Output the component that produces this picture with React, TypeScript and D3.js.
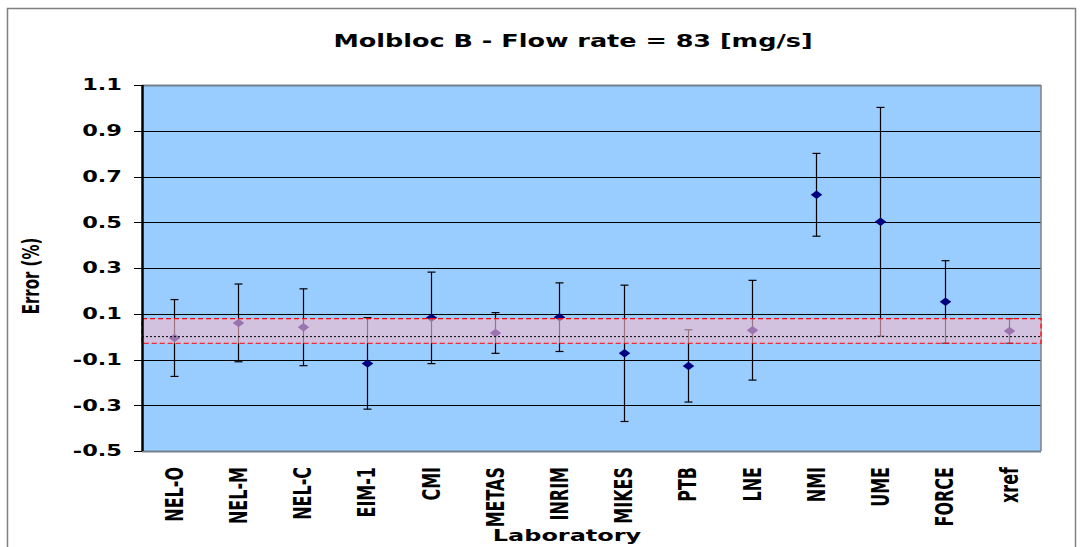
import React from "react";
import * as d3 from "d3";

const labs = ["NEL-O","NEL-M","NEL-C","EIM-1","CMI","METAS","INRIM","MIKES","PTB","LNE","NMI","UME","FORCE","xref"];
const errors = [-0.006, 0.06, 0.041, -0.117, 0.082, 0.016, 0.085, -0.073, -0.128, 0.028, 0.62, 0.502, 0.152, 0.025];
const uncert = [0.168, 0.17, 0.168, 0.2, 0.2, 0.089, 0.15, 0.298, 0.158, 0.218, 0.181, 0.5, 0.18, 0.053];
const yTicks = [1.1, 0.9, 0.7, 0.5, 0.3, 0.1, -0.1, -0.3, -0.5];
const refValue = 0.025;
const refU = 0.054;

const W = 1080, H = 547;
const L = 142, R = 1041, T = 85, B = 451;
const FONT = "Verdana, 'DejaVu Sans', sans-serif";
const SX = 1.5;

export default function App() {
  const x = d3.scaleBand<string>().domain(labs).range([L, R]);
  const y = d3.scaleLinear().domain([-0.5, 1.1]).range([B, T]);
  const cx = (l: string) => (x(l) as number) + x.bandwidth() / 2;
  const diamond = d3.symbol().type(d3.symbolDiamond).size(40)();
  return (
    <svg width={W} height={H} style={{ position: "absolute", left: 0, top: 0 }}>
      <rect x={0} y={0} width={W} height={H} fill="#fff" />
      <rect x={7.5} y={8.5} width={1068} height={560} fill="#fff" stroke="#808080" strokeWidth={1.5} />
      <text transform={`translate(573,47) scale(${SX},1)`} textAnchor="middle" fontFamily={FONT} fontWeight="bold" fontSize={17}>
        Molbloc B - Flow rate = 83 [mg/s]
      </text>
      <rect x={L} y={T} width={R - L} height={B - T} fill="#99CCFF" />
      {yTicks.map((t) => (
        <line key={"g" + t} x1={L} x2={R} y1={Math.round(y(t)) + 0.5} y2={Math.round(y(t)) + 0.5}
          stroke={t === 1.1 || t === -0.5 ? "#708090" : "#000"} strokeWidth={t === 1.1 || t === -0.5 ? 2 : 1.2} />
      ))}
      <line x1={R} x2={R} y1={T} y2={B} stroke="#808080" strokeWidth={1.5} />
      {yTicks.map((t) => (
        <g key={"t" + t}>
          <line x1={134} x2={L} y1={Math.round(y(t)) + 0.5} y2={Math.round(y(t)) + 0.5} stroke="#000" strokeWidth={1} />
          <text transform={`translate(122,${y(t)}) scale(${SX},1)`} dy="0.36em" textAnchor="end" fontFamily={FONT} fontWeight="bold" fontSize={15}>
            {t.toFixed(1)}
          </text>
        </g>
      ))}
      {labs.map((l, i) => {
        const X = Math.round(cx(l)) + 0.5;
        return (
          <g key={l}>
            <line x1={X} x2={X} y1={y(errors[i] + uncert[i])} y2={y(errors[i] - uncert[i])} stroke="#000" strokeWidth={1.2} />
            <line x1={X - 4} x2={X + 4} y1={y(errors[i] + uncert[i])} y2={y(errors[i] + uncert[i])} stroke="#000" strokeWidth={1.2} />
            <line x1={X - 4} x2={X + 4} y1={y(errors[i] - uncert[i])} y2={y(errors[i] - uncert[i])} stroke="#000" strokeWidth={1.2} />
            <path d={diamond as string} transform={`translate(${X},${y(errors[i])}) scale(1.7,0.72)`} fill="#000080" />
          </g>
        );
      })}
      <rect x={L} y={y(refValue + refU)} width={R - L} height={y(refValue - refU) - y(refValue + refU)}
        fill="#f7bccb" fillOpacity={0.62} stroke="#ff0000" strokeWidth={1.2} strokeDasharray="5,3" />
      <line x1={L} x2={R} y1={y(0)} y2={y(0)} stroke="#000" strokeWidth={1} strokeDasharray="2,2" />
      <line x1={L + 0.5} x2={L + 0.5} y1={T} y2={B} stroke="#000" strokeWidth={2.5} />
      {labs.map((l) => (
        <text key={"x" + l} transform={`translate(${cx(l)},467) scale(${SX},1) rotate(-90)`} dy="0.36em" textAnchor="end"
          fontFamily={FONT} fontWeight="bold" fontSize={16}>
          {l}
        </text>
      ))}
      <text transform={`translate(567,541) scale(${SX},1)`} textAnchor="middle" fontFamily={FONT} fontWeight="bold" fontSize={16}>Laboratory</text>
      <text transform={`translate(39,276) scale(${SX},1) rotate(-90)`} textAnchor="middle" fontFamily={FONT} fontWeight="bold" fontSize={15}>
        Error (%)
      </text>
    </svg>
  );
}
